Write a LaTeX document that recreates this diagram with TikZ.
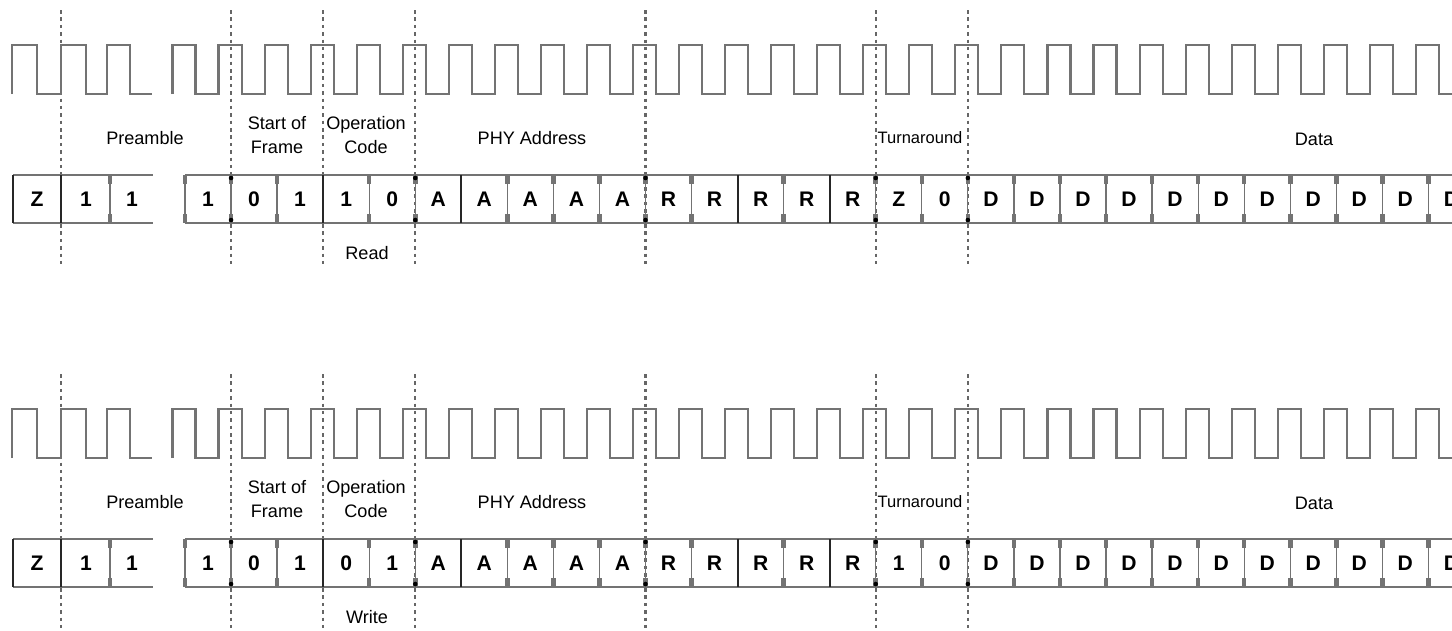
\documentclass[tikz,border=0pt]{standalone}
\usepackage{fontspec}
\setmainfont{Liberation Sans}
\usetikzlibrary{positioning}
\tikzset{clk/.style = {black!55, line width=1.2pt, line join=miter},
         cellline/.style = {black!55, line width=1.1pt},
         septhin/.style = {black!55, line width=0.7pt},
         septab/.style = {black!55, line width=2.6pt},
         sepbar/.style = {black!85, line width=1.1pt},
         guide/.style = {black!60, line width=1.2pt, dash pattern=on 2pt off 2.2pt},
         bitlbl/.style = {font=\fontsize{12}{14}\selectfont\bfseries, inner sep=0pt},
         fieldlbl/.style = {font=\fontsize{10.3}{13.6}\selectfont, align=center, inner sep=0pt}}

% #1 name prefix, #2 y offset, #3 bits after the preamble, #4 operation
\newcommand{\mdioframe}[4]{%
  \begin{scope}[shift={(0,#2)}]
    % boundaries of the fields
    \draw[guide] (61,10) -- (61,265);
    \foreach \j in {1,3,5,10,15,17} {
      \pgfmathsetmacro\xb{185+46.05*\j}
      \draw[guide] (\xb,10) -- (\xb,265);
    }
    % clock
    \draw[clk] (12,94) -- (12,45) -- (37,45) -- (37,94) -- (61,94) -- (61,45) -- (86,45)
      -- (86,94) -- (107,94) -- (107,45) -- (130,45) -- (130,94) -- (152,94);
    \draw[clk] (172.5,94) \foreach \k in {0,...,27} {
      -- ({172.5+46.05*\k},45) -- ({195.5+46.05*\k},45) -- ({195.5+46.05*\k},94)
      -- ({218.55+46.05*\k},94) };
    % bit cells
    \draw[cellline] (13,175) -- (153,175) (13,223) -- (153,223);
    \draw[cellline] (185,175) -- (1452,175) (185,223) -- (1452,223);
    \draw[sepbar, line width=1.6pt] (13,175) -- (13,223);
    \draw[sepbar] (61,175) -- (61,223);
    \draw[septhin] (110,175) -- (110,223);
    \draw[septab] (110,175) -- (110,184) (110,214) -- (110,223);
    \foreach \j in {0,1,2,4,5,7,8,9,10,11,13,15,16,17,18,19,20,21,22,23,24,25,26,27} {
      \pgfmathsetmacro\xb{185+46.05*\j}
      \draw[septhin] (\xb,175) -- (\xb,223);
      \draw[septab] (\xb,175) -- (\xb,184) (\xb,214) -- (\xb,223);
    }
    \foreach \j in {3,6,12,14} {
      \pgfmathsetmacro\xb{185+46.05*\j}
      \draw[sepbar] (\xb,175) -- (\xb,223);
    }
    \foreach \j in {1,5,10,15,17} {
      \pgfmathsetmacro\xb{185+46.05*\j}
      \fill[black] (\xb,178) circle (1.3pt) (\xb,220) circle (1.3pt);
    }
    % bit values
    \node[bitlbl] (#1z) at (37,199) {Z};
    \node[bitlbl] (#1pa) at (86,199) {1};
    \node[bitlbl] (#1pb) at (132,199) {1};
    \foreach \b [count=\j from 0] in {#3} {
      \node[bitlbl] (#1bit\j) at ({208+46.05*\j},199) {\b};
    }
    % field names
    \node[fieldlbl] (#1pre) at (145,138) {Preamble};
    \node[fieldlbl] (#1sof) at (277,135) {Start of\\Frame};
    \node[fieldlbl] (#1op) at (366,135) {Operation\\Code};
    \node[fieldlbl] (#1phy) at (532,138) {PHY Address};
    \node[fieldlbl, font=\fontsize{9.4}{11}\selectfont] (#1ta) at (920,138) {Turnaround};
    \node[fieldlbl] (#1data) at (1314,139) {Data};
    \node[fieldlbl] (#1opname) at (367,253) {#4};
  \end{scope}}

\begin{document}
\begin{tikzpicture}[x=0.02cm, y=-0.02cm]
  \useasboundingbox (0,0) rectangle (1452,630);
  \clip (0,0) rectangle (1452,630);
  \mdioframe{rd}{0}{1,0,1,1,0,A,A,A,A,A,R,R,R,R,R,Z,0,D,D,D,D,D,D,D,D,D,D,D}{Read}
  \mdioframe{wr}{364}{1,0,1,0,1,A,A,A,A,A,R,R,R,R,R,1,0,D,D,D,D,D,D,D,D,D,D,D}{Write}
\end{tikzpicture}
\end{document}
